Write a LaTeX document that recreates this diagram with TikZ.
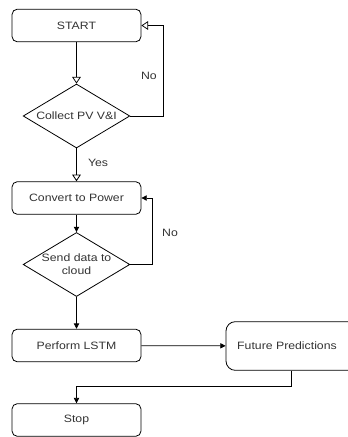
\documentclass[tikz,border=0pt]{standalone}
\usepackage{fontspec}
\setmainfont{Liberation Sans}[FakeStretch=1.15]
\usetikzlibrary{arrows.meta,positioning}
\usetikzlibrary{shapes.geometric}

\tikzset{
    stepbox/.style={draw, rounded corners=4pt, minimum width=96.75pt, minimum height=24.5pt, inner sep=1pt, text=black!80},
    decision/.style={draw, diamond, aspect=1.67, minimum width=80pt, minimum height=48pt, inner sep=0pt, align=center, text=black!80},
    openarrow/.style={-{Triangle[open, length=5pt, width=6.5pt]}},
    fullarrow/.style={-{Triangle[length=4pt, width=4pt]}},
    lbl/.style={text=black!80}
}

\begin{document}
\begin{tikzpicture}[>=stealth, x=0.75pt, y=0.75pt, font=\fontsize{8}{9.5}\selectfont, line width=0.6pt]

\useasboundingbox (0,0) rectangle (348,-437);

% Main column
\node[stepbox] (start) at (76.5,-25.5) {START};
\node[decision] (collect) at (76.5,-116) {Collect PV V\&I};
\node[stepbox] (convert) at (76.5,-198) {Convert to Power};
\node[decision] (send) at (76.5,-264.5) {Send data to\\cloud};
\node[stepbox] (lstm) at (76.5,-345.5) {Perform LSTM};
\node[stepbox] (stop) at (76.5,-420) {Stop};

% Side box, cut by the right edge
\node[stepbox, rounded corners=7pt, minimum width=100.5pt, minimum height=36.5pt] (future) at (293,-346) {\hspace*{-9pt}Future Predictions};

% Loop corners
\coordinate (c1) at (163,-116);
\coordinate (c2) at (152,-264.5);
\coordinate (c3) at (291,-386);

% Connectors
\draw[openarrow] (start) -- (collect);
\draw[openarrow] (collect) -- node[lbl, right=5pt, pos=0.45] {Yes} (convert);
\draw[openarrow] (collect.east) -- (c1) |- node[lbl, left=1pt, pos=0.22] {No} (start.east);
\draw[fullarrow] (convert) -- (send);
\draw[fullarrow] (send.east) -- (c2) |- node[lbl, right=4pt, pos=0.24] {No} (convert.east);
\draw[fullarrow] (send) -- (lstm);
\draw[fullarrow] (lstm) -- (future);
\draw[fullarrow] (future.south -| c3) -- (c3) -| (stop.north);

\end{tikzpicture}
\end{document}
